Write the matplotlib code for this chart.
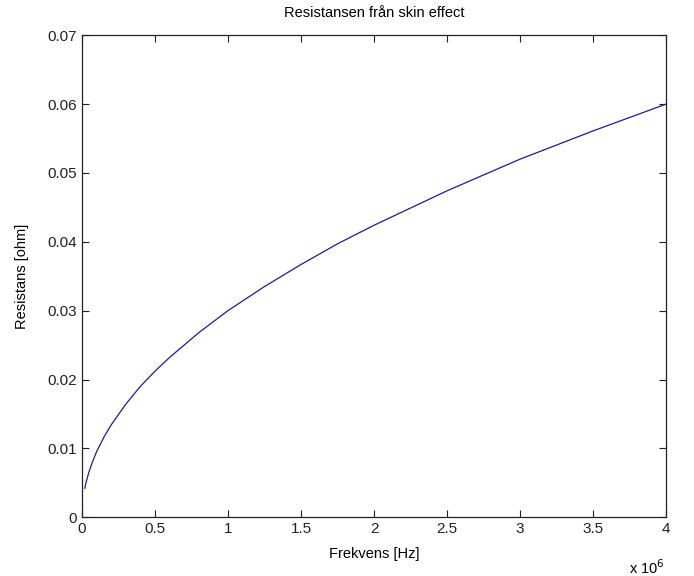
import matplotlib
matplotlib.use("Agg")
import matplotlib.pyplot as plt

# Frekvens [Hz] and resistans [ohm]
freq = [0.02e6, 0.03e6, 0.05e6, 0.07e6, 0.1e6, 0.15e6, 0.2e6, 0.3e6, 0.4e6,
        0.5e6, 0.6e6, 0.8e6, 1.0e6, 1.25e6, 1.5e6, 1.75e6, 2.0e6, 2.5e6,
        3.0e6, 3.5e6, 4.0e6]
resist = [0.0042, 0.0052, 0.0067, 0.0079, 0.0095, 0.0116, 0.0134, 0.0164,
          0.0190, 0.0212, 0.0232, 0.0268, 0.0300, 0.0335, 0.0367, 0.0397,
          0.0424, 0.0474, 0.0520, 0.0561, 0.0600]

x_ticks = [0, 0.5e6, 1e6, 1.5e6, 2e6, 2.5e6, 3e6, 3.5e6, 4e6]
x_labels = ["0", "0.5", "1", "1.5", "2", "2.5", "3", "3.5", "4"]
y_ticks = [0, 0.01, 0.02, 0.03, 0.04, 0.05, 0.06, 0.07]
y_labels = ["0", "0.01", "0.02", "0.03", "0.04", "0.05", "0.06", "0.07"]

plt.rcParams['font.family'] = ['Liberation Sans', 'DejaVu Sans']

fig = plt.figure(figsize=(6.94, 5.76), dpi=100)
ax = fig.add_axes([0.118, 0.102, 0.842, 0.837])

ax.plot(freq, resist, color='#1c1c9a', linewidth=0.9)

ax.set_xlim(0, 4e6)
ax.set_ylim(0, 0.07)
ax.set_xticks(x_ticks)
ax.set_xticklabels(x_labels)
ax.set_yticks(y_ticks)
ax.set_yticklabels(y_labels)
ax.tick_params(direction='in', top=True, right=True, length=5,
               labelsize=11, colors='#222222')
for s in ax.spines.values():
    s.set_color('#222222')
    s.set_linewidth(0.9)

ax.set_title("Resistansen från skin effect", fontsize=10.5, pad=13)
ax.set_xlabel("Frekvens [Hz]", fontsize=10.5, labelpad=8)
ax.set_ylabel("Resistans [ohm]", fontsize=10.5, labelpad=13)

# MATLAB style exponent label at the lower right
ax.text(0.998, -0.085, r"x 10$^{6}$", transform=ax.transAxes,
        ha='right', va='top', fontsize=10.5)

fig.savefig("out.png", dpi=100)
